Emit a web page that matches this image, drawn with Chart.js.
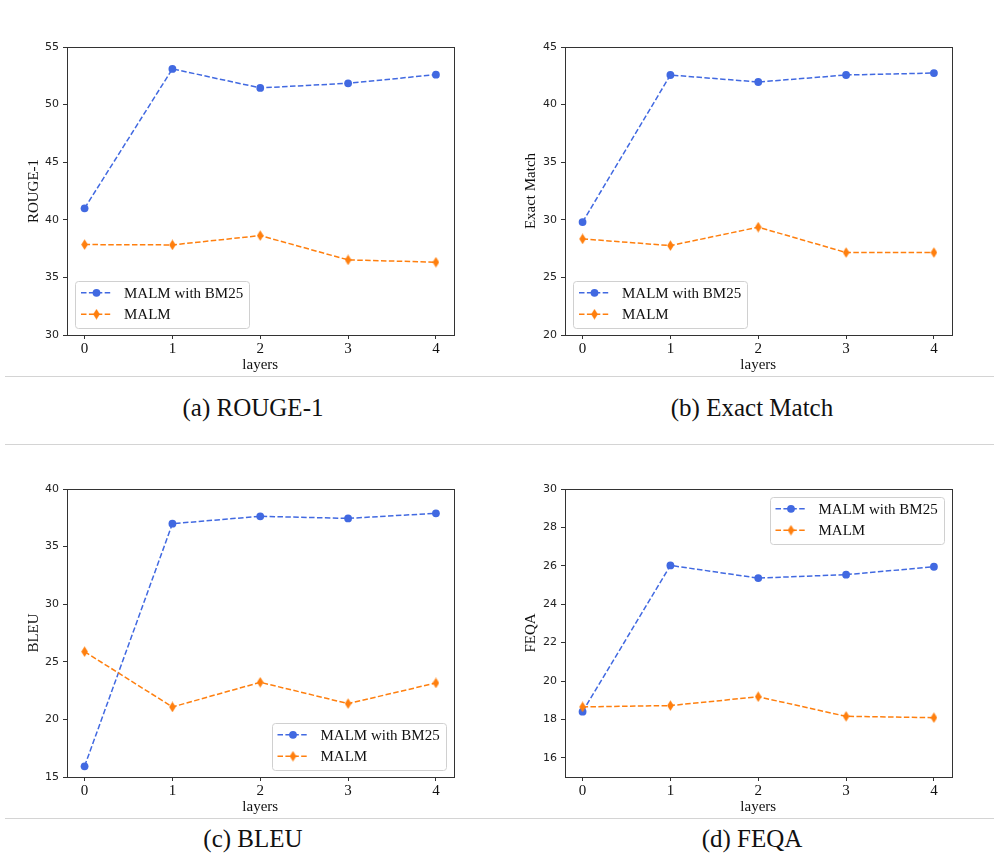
<!DOCTYPE html>
<html>
<head>
<meta charset="utf-8">
<script src="https://cdn.jsdelivr.net/npm/chart.js@4.4.1/dist/chart.umd.min.js"></script>
<style>
  html, body { margin: 0; padding: 0; background: #fff; }
  body { width: 994px; height: 866px; position: relative; overflow: hidden; }
  .panel { position: absolute; width: 480px; height: 346px; }
  .rule { position: absolute; left: 5px; right: 0; height: 1px; background: #d4d4d4; }
  .caption {
    position: absolute; width: 400px; text-align: center;
    font-family: 'Liberation Serif', 'Times New Roman', serif;
    font-size: 25px; line-height: 25px; color: #111;
  }
</style>
</head>
<body>
<div class="panel" style="left:0;top:30px"><canvas id="rouge"></canvas></div>
<div class="panel" style="left:497px;top:30px"><canvas id="em"></canvas></div>
<div class="panel" style="left:0;top:472px"><canvas id="bleu"></canvas></div>
<div class="panel" style="left:497px;top:472px"><canvas id="feqa"></canvas></div>

<div class="rule" style="top:376px"></div>
<div class="rule" style="top:444px"></div>
<div class="rule" style="top:818px"></div>

<div class="caption" style="left:53px;top:395px">(a) ROUGE-1</div>
<div class="caption" style="left:552px;top:395px">(b) Exact Match</div>
<div class="caption" style="left:53px;top:826px">(c) BLEU</div>
<div class="caption" style="left:552px;top:826px">(d) FEQA</div>

<script>
// values
const layers = [0, 1, 2, 3, 4];

const rougeBm25 = [41.0, 53.1, 51.45, 51.85, 52.6];
const rougeMalm = [37.85, 37.82, 38.63, 36.52, 36.32];
const rougeTicks = [30, 35, 40, 45, 50, 55];

const emBm25 = [29.8, 42.57, 41.96, 42.57, 42.74];
const emMalm = [28.34, 27.76, 29.36, 27.16, 27.16];
const emTicks = [20, 25, 30, 35, 40, 45];

const bleuBm25 = [15.93, 36.99, 37.63, 37.45, 37.89];
const bleuMalm = [25.88, 21.08, 23.22, 21.37, 23.16];
const bleuTicks = [15, 20, 25, 30, 35, 40];

const feqaBm25 = [18.4, 26.02, 25.36, 25.54, 25.95];
const feqaMalm = [18.65, 18.72, 19.18, 18.16, 18.09];
const feqaTicks = [16, 18, 20, 22, 24, 26, 28, 30];

const seriesNames = ['MALM with BM25', 'MALM'];

const BLUE = '#4169e1';
const ORANGE = '#ff7f0e';
const SERIF = "'Liberation Serif', 'Times New Roman', serif";
const SANS = "'DejaVu Sans', sans-serif";
const AXIS = '#333';

// thin diamond marker, like matplotlib 'd'
function makeDiamond(color) {
  const c = document.createElement('canvas');
  c.width = 7; c.height = 11;
  const g = c.getContext('2d');
  g.fillStyle = color;
  g.beginPath();
  g.moveTo(3.5, 0.2); g.lineTo(6.8, 5.5); g.lineTo(3.5, 10.8); g.lineTo(0.2, 5.5);
  g.closePath();
  g.fill();
  return c;
}
const diamond = makeDiamond(ORANGE);

// box around the plot area
const framePlugin = {
  id: 'frame',
  afterDatasetsDraw(chart) {
    const { ctx, chartArea: a } = chart;
    ctx.save();
    ctx.strokeStyle = AXIS;
    ctx.lineWidth = 1;
    ctx.strokeRect(Math.round(a.left) + 0.5, Math.round(a.top) + 0.5,
      Math.round(a.right - a.left), Math.round(a.bottom - a.top));
    ctx.restore();
  }
};

// legend drawn inside the axes
const boxLegend = {
  id: 'boxLegend',
  afterDraw(chart, args, opts) {
    const { ctx, chartArea: a } = chart;
    const w = 174, h = 47;
    let x = a.left + 8, y = a.bottom - 7 - h;
    if (opts.corner === 'br') x = a.right - 8 - w;
    if (opts.corner === 'tr') { x = a.right - 8 - w; y = a.top + 8; }

    ctx.save();
    ctx.fillStyle = 'rgba(255,255,255,0.8)';
    ctx.strokeStyle = '#d0d0d0';
    ctx.lineWidth = 1;
    ctx.beginPath();
    ctx.roundRect(Math.round(x) + 0.5, Math.round(y) + 0.5, w, h, 3);
    ctx.fill();
    ctx.stroke();

    chart.data.datasets.forEach((ds, i) => {
      const cy = y + 11.8 + i * 21.4;
      ctx.strokeStyle = ds.borderColor;
      ctx.lineWidth = ds.borderWidth;
      ctx.setLineDash(ds.borderDash);
      ctx.beginPath();
      ctx.moveTo(x + 6, cy);
      ctx.lineTo(x + 37, cy);
      ctx.stroke();
      ctx.setLineDash([]);
      const cx = x + 21.5;
      if (ds.pointStyle === 'circle') {
        ctx.fillStyle = ds.backgroundColor;
        ctx.beginPath();
        ctx.arc(cx, cy, ds.pointRadius, 0, Math.PI * 2);
        ctx.fill();
      } else {
        const img = ds.pointStyle;
        ctx.drawImage(img, cx - img.width / 2, cy - img.height / 2);
      }
      ctx.fillStyle = '#111';
      ctx.font = '15px ' + SERIF;
      ctx.textBaseline = 'middle';
      ctx.fillText(ds.label, x + 49, cy + 1);
    });
    ctx.restore();
  }
};

function makeChart(id, title, bm25, malm, yMin, yMax, yTicks, corner, yWidth) {
  const pts = vals => layers.map((x, i) => ({ x: x, y: vals[i] }));
  return new Chart(document.getElementById(id), {
    type: 'line',
    data: {
      datasets: [
        {
          label: seriesNames[0], data: pts(bm25),
          borderColor: BLUE, backgroundColor: BLUE,
          borderWidth: 1.5, borderDash: [5.5, 2.4],
          pointStyle: 'circle', pointRadius: 3.9, pointBorderWidth: 0,
          order: 1
        },
        {
          label: seriesNames[1], data: pts(malm),
          borderColor: ORANGE, backgroundColor: ORANGE,
          borderWidth: 1.5, borderDash: [5.5, 2.4],
          pointStyle: diamond, pointRadius: 5, pointBorderWidth: 0,
          order: 0
        }
      ]
    },
    options: {
      responsive: true,
      maintainAspectRatio: false,
      animation: false,
      events: [],
      layout: { padding: { top: 17, right: 480 - yWidth - 386.5, left: 0, bottom: 0 } },
      plugins: {
        legend: { display: false },
        tooltip: { enabled: false },
        boxLegend: { corner: corner }
      },
      scales: {
        x: {
          type: 'linear', min: -0.2, max: 4.2,
          afterBuildTicks: s => { s.ticks = layers.map(v => ({ value: v })); },
          afterFit: s => { s.height = 41; },
          border: { display: false },
          grid: { drawOnChartArea: false, drawTicks: true, tickLength: 4, color: AXIS },
          ticks: { color: '#111', padding: 1, font: { family: SERIF, size: 15 } },
          title: { display: true, text: 'layers', color: '#111',
                   font: { family: SERIF, size: 15 }, padding: { top: 0, bottom: 2 } }
        },
        y: {
          min: yMin, max: yMax,
          afterBuildTicks: s => { s.ticks = yTicks.map(v => ({ value: v })); },
          afterFit: s => { s.width = yWidth; },
          border: { display: false },
          grid: { drawOnChartArea: false, drawTicks: true, tickLength: 4, color: AXIS },
          ticks: { color: '#222', padding: 4, font: { family: SANS, size: 11 } },
          title: { display: true, text: title, color: '#111',
                   font: { family: SERIF, size: 15 }, padding: { top: 25, bottom: 0 } }
        }
      }
    },
    plugins: [framePlugin, boxLegend]
  });
}

makeChart('rouge', 'ROUGE-1', rougeBm25, rougeMalm, 30, 55, rougeTicks, 'bl', 67);
makeChart('em', 'Exact Match', emBm25, emMalm, 20, 45, emTicks, 'bl', 68);
makeChart('bleu', 'BLEU', bleuBm25, bleuMalm, 15, 40, bleuTicks, 'br', 67);
makeChart('feqa', 'FEQA', feqaBm25, feqaMalm, 15, 30, feqaTicks, 'tr', 68);
</script>
</body>
</html>
